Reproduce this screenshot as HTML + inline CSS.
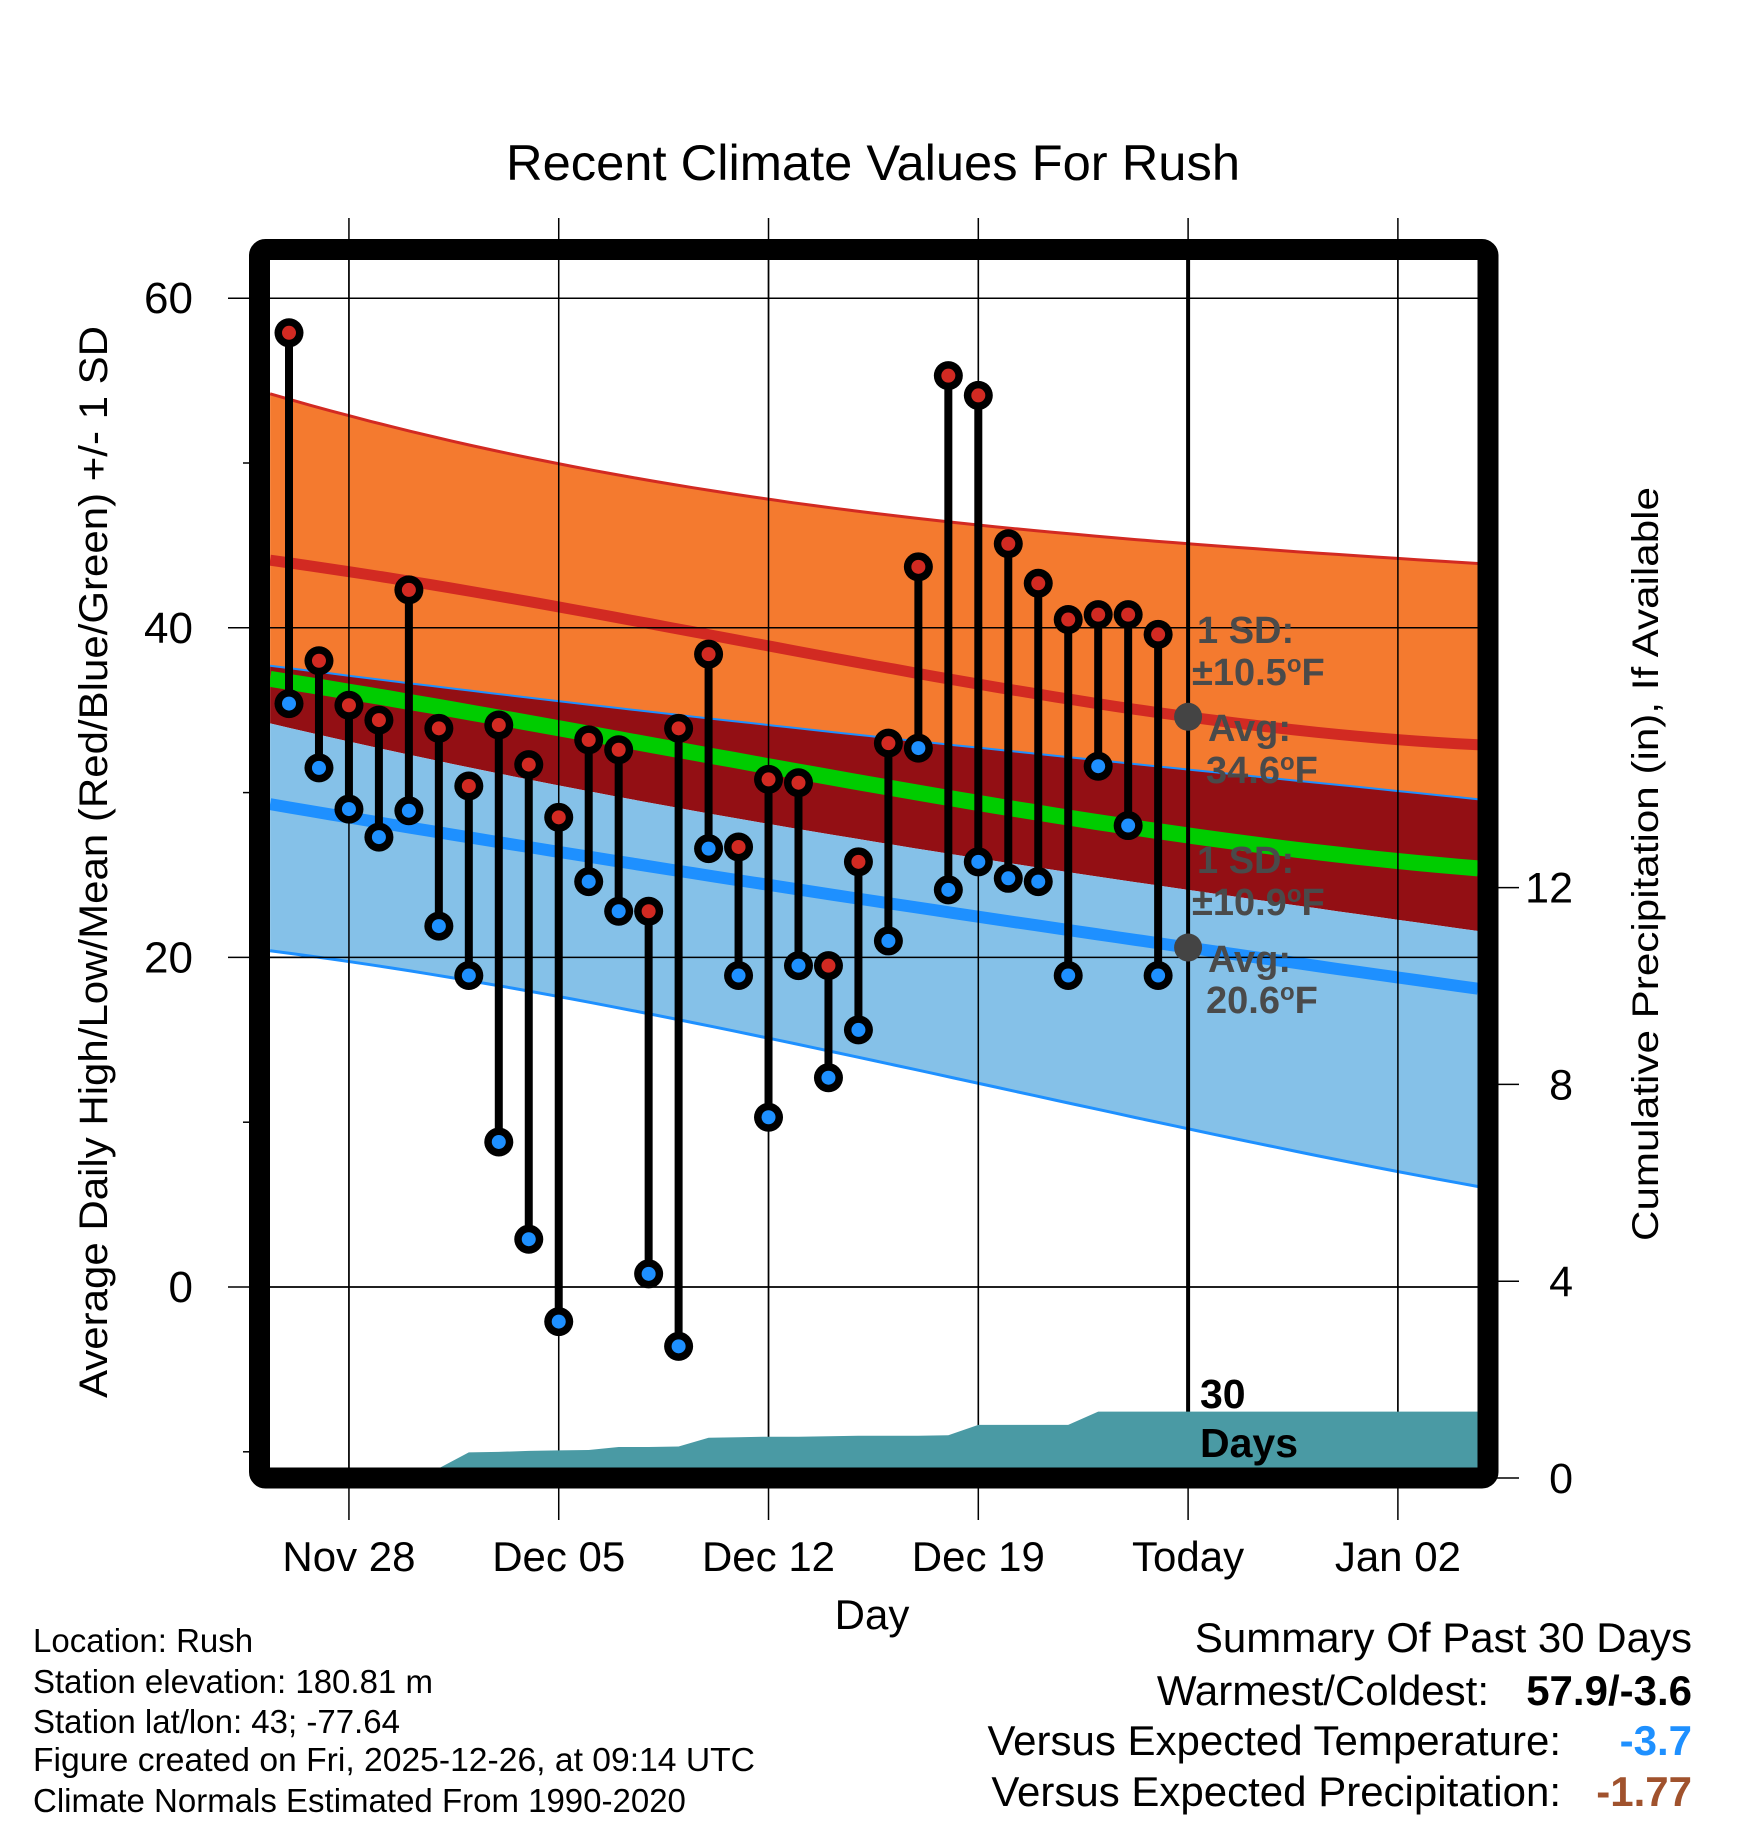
<!DOCTYPE html>
<html><head><meta charset="utf-8"><style>
body{margin:0;background:#fff}
svg{display:block;font-family:"Liberation Sans",sans-serif}
</style></head><body>
<svg id="chart" width="1748" height="1828" viewBox="0 0 1748 1828" xmlns="http://www.w3.org/2000/svg">
<text x="873" y="180" font-size="50" text-anchor="middle" textLength="734" lengthAdjust="spacingAndGlyphs">Recent Climate Values For Rush</text>
<g id="plot"></g>
<text x="872" y="1629" font-size="42" text-anchor="middle">Day</text>
<text transform="translate(107,862) rotate(-90)" font-size="40" text-anchor="middle" textLength="1072" lengthAdjust="spacingAndGlyphs">Average Daily High/Low/Mean (Red/Blue/Green) +/- 1 SD</text>
<text transform="translate(1658,864) rotate(-90)" font-size="37" text-anchor="middle" textLength="754" lengthAdjust="spacingAndGlyphs">Cumulative Precipitation (in), If Available</text>
<g font-size="33">
<text x="33" y="1652">Location: Rush</text>
<text x="33" y="1693">Station elevation: 180.81 m</text>
<text x="33" y="1733">Station lat/lon: 43; -77.64</text>
<text x="33" y="1771" textLength="722" lengthAdjust="spacingAndGlyphs">Figure created on Fri, 2025-12-26, at 09:14 UTC</text>
<text x="33" y="1812">Climate Normals Estimated From 1990-2020</text>
</g>
<g font-size="42" text-anchor="end">
<text x="1692" y="1652">Summary Of Past 30 Days</text>
<text x="1489" y="1705">Warmest/Coldest:</text>
<text x="1692" y="1705" font-weight="bold">57.9/-3.6</text>
<text x="1561" y="1755">Versus Expected Temperature:</text>
<text x="1692" y="1755" font-weight="bold" fill="#1e90ff">-3.7</text>
<text x="1561" y="1806">Versus Expected Precipitation:</text>
<text x="1692" y="1806" font-weight="bold" fill="#a0522d">-1.77</text>
</g>
</svg>
<script>
const highs=[57.9,38.0,35.3,34.4,42.3,33.9,30.4,34.1,31.7,28.5,33.2,32.6,22.8,33.9,38.4,26.7,30.8,30.6,19.5,25.8,33.0,43.7,55.3,54.1,45.1,42.7,40.5,40.8,40.8,39.6];
const lows=[35.4,31.5,29.0,27.3,28.9,21.9,18.9,8.8,2.9,-2.1,24.6,22.8,0.8,-3.6,26.6,18.9,10.3,19.5,12.7,15.6,21.0,32.7,24.1,25.8,24.8,24.6,18.9,31.6,28.0,18.9];
const precip=[0.18,0.18,0.18,0.18,0.18,0.2,0.52,0.53,0.55,0.56,0.57,0.63,0.63,0.64,0.82,0.83,0.84,0.84,0.85,0.86,0.86,0.86,0.87,1.08,1.08,1.08,1.08,1.35,1.35,1.35,1.35];
const normDays=[-0.63,16,30,39.67];
const normHigh=[44.1,38.9,34.6,32.9];
const normHighUp=[54.2,47.8,45.1,43.9];
const normHighLo=[37.7,34.1,31.4,29.6];
const normMean=[36.9,31.6,27.4,25.4];
const normLow=[29.3,24.4,20.6,18.1];
const normLowUp=[34.2,28.1,24.1,21.6];
const normLowLo=[20.4,15.1,9.6,6.1];
const yTicks=[0,20,40,60];
const yMinor=[-10,10,30,50];
const pTicks=[0,4,8,12];
const xLabels=["Nov 28","Dec 05","Dec 12","Dec 19","Today","Jan 02"];
const xLabelDays=[2,9,16,23,30,37];

const L=270,R=1478,T=260,B=1468;
const X=d=>289+d*29.97;
const Y=v=>1287-v*16.48;
const P=v=>1478-v*49.2;
const NS='http://www.w3.org/2000/svg';
const g=document.getElementById('plot');
function el(tag,attrs,parent){const e=document.createElementNS(NS,tag);for(const k in attrs)e.setAttribute(k,attrs[k]);(parent||g).appendChild(e);return e;}
function lag(arr,d){let s=0;for(let i=0;i<normDays.length;i++){let w=1;for(let j=0;j<normDays.length;j++){if(j!==i)w*=(d-normDays[j])/(normDays[i]-normDays[j]);}s+=w*arr[i];}return s;}
function pts(arr){const out=[];const d0=normDays[0],d1=normDays[normDays.length-1];const n=60;for(let k=0;k<=n;k++){const d=d0+(d1-d0)*k/n;out.push(X(d).toFixed(1)+','+Y(lag(arr,d)).toFixed(1));}return out;}
function band(up,lo,fill,name){
  const p=pts(up).concat(pts(lo).reverse());
  const e=el('polygon',{points:p.join(' '),fill:fill});
  
  
}
function line(arr,col,w,name){
  const e=el('polyline',{points:pts(arr).join(' '),fill:'none',stroke:col,'stroke-width':w});
  
  
}
yTicks.forEach(v=>{const e=el('line',{x1:228,x2:R,y1:Y(v),y2:Y(v),stroke:'#000','stroke-width':1.5});


const t=el('text',{x:193,y:Y(v)+15,'font-size':44,'text-anchor':'end'});t.textContent=v;

});
yMinor.forEach(v=>{el('line',{x1:243,x2:255,y1:Y(v),y2:Y(v),stroke:'#000','stroke-width':1.5});});
pTicks.forEach(v=>{el('line',{x1:1490,x2:1519,y1:P(v),y2:P(v),stroke:'#000','stroke-width':1.5});
const t=el('text',{x:1573,y:P(v)+15,'font-size':43,'text-anchor':'end'});t.textContent=v;

});
xLabelDays.forEach((d,i)=>{const e=el('line',{x1:X(d),x2:X(d),y1:218,y2:1520,stroke:'#000','stroke-width':1.5});


const t=el('text',{x:X(d),y:1571,'font-size':42,'text-anchor':'middle'});t.textContent=xLabels[i];

});
band(normHighUp,normHighLo,'#f47a2f','high-sd-band');
band(normHighLo,normLowUp,'#930f14','overlap-band');
band(normLowUp,normLowLo,'#85c1e8','low-sd-band');
line(normHighUp,'#d22a22',3,'high-upper-sd-line');
line(normHighLo,'#1e90ff',2,'high-lower-sd-line');
line(normLowLo,'#1e90ff',3,'low-lower-sd-line');
line(normHigh,'#d22a22',11,'avg-high-line');
line(normMean,'#00cc00',16,'mean-line');
line(normLow,'#1e90ff',12,'avg-low-line');
yTicks.forEach(v=>el('line',{x1:L,x2:R,y1:Y(v),y2:Y(v),stroke:'#000','stroke-width':1.5}));
xLabelDays.forEach(d=>el('line',{x1:X(d),x2:X(d),y1:T,y2:B,stroke:'#000','stroke-width':d===30?4:1.5}));
{let p=[X(-1)+','+P(0),X(-1)+','+P(precip[0])];
precip.forEach((v,i)=>p.push(X(i).toFixed(1)+','+P(v).toFixed(1)));
p.push(R+','+P(precip[precip.length-1]),R+','+P(0));
const e=el('polygon',{points:p.join(' '),fill:'#4a9aa4'});

}
highs.forEach((h,i)=>{
  const x=X(i);
  const s=el('line',{x1:x,x2:x,y1:Y(h),y2:Y(lows[i]),stroke:'#000','stroke-width':8});
  
  
  [[h,'#d22a22','high-marker'],[lows[i],'#1e90ff','low-marker']].forEach(([v,c,n])=>{
    el('circle',{cx:x,cy:Y(v),r:14.5,fill:'#000'});
    const m=el('circle',{cx:x,cy:Y(v),r:7,fill:c});
    
    
  });
});
const tx=X(30);
function txt(s,x,y,sz,w,col,name){const t=el('text',{x:x,y:y,'font-size':sz,'font-weight':w,fill:col});t.innerHTML=s;

return t;}
el('circle',{cx:tx,cy:Y(normHigh[2]),r:14,fill:'#444'});
el('circle',{cx:tx,cy:Y(normLow[2]),r:14,fill:'#444'});
const deg='<tspan dy="-13" font-size="24">o</tspan><tspan dy="13">F</tspan>';
txt('1 SD:',1197,643,38,'bold','#4a4a4a','high-sd-label');
txt('±10.5'+deg,1192,685,38,'bold','#4a4a4a','high-sd-value');
txt('Avg:',1208,741,38,'bold','#4a4a4a','avg-high-label');
txt('34.6'+deg,1206,783,38,'bold','#4a4a4a','avg-high-value');
txt('1 SD:',1197,873,38,'bold','#4a4a4a','low-sd-label');
txt('±10.9'+deg,1192,915,38,'bold','#4a4a4a','low-sd-value');
txt('Avg:',1208,972,38,'bold','#4a4a4a','avg-low-label');
txt('20.6'+deg,1206,1013,38,'bold','#4a4a4a','avg-low-value');
txt('30',1200,1408,41,'bold','#000','days-label-30');
txt('Days',1200,1457,41,'bold','#000','days-label');
const f=el('rect',{x:259.5,y:249.5,width:1228.5,height:1228.5,fill:'none',stroke:'#000','stroke-width':21,rx:6});


</script>
</body></html>
